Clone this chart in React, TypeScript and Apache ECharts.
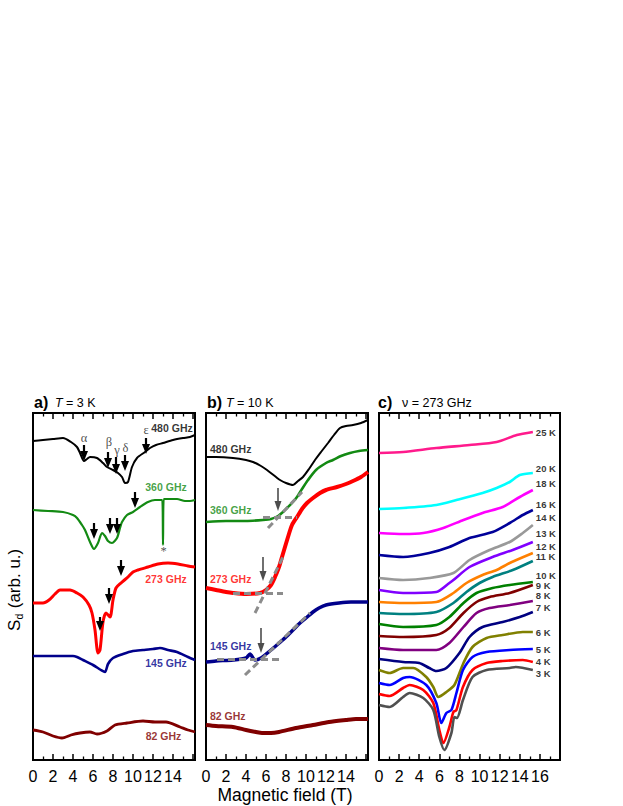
import { useEffect, useRef } from 'react';
import * as echarts from 'echarts';

type Pt = [number, number];

// ---------- panel a) T = 3 K  (field in T, signal in arb. u.) ----------
const a480: Pt[] = [[0,319],[1,320],[2,321],[3,322],[3.8,318],[4.4,313],[4.7,307],[5.1,299],[5.4,301],[5.7,303],[6.4,302],[7.0,297],[7.4,293],[8.0,290],[8.5,287],[8.9,283],[9.2,277],[9.5,278],[9.9,293],[10.4,302],[11.2,308],[11.7,312],[12.3,315],[13.0,317],[14.0,320],[15.0,322],[15.7,323],[16.2,325]];
const a360: Pt[] = [[0,250],[1.5,249],[3,248],[4.0,245],[4.4,242],[4.9,235],[5.2,230],[5.7,218],[6.1,211],[6.5,217],[6.9,227],[7.2,224],[7.5,219],[7.9,217],[8.4,222],[8.7,232],[8.9,238],[9.4,245],[10.0,248],[10.7,253],[11.5,258],[12.2,260],[12.93,260],[13.0,215],[13.07,261],[14.4,261],[15.2,259],[15.7,259],[16.2,260]];
const a273: Pt[] = [[0,157],[1.0,157],[1.6,160],[2.2,166],[2.7,170],[3.7,170],[4.4,167],[5.0,163],[5.6,155],[5.9,147],[6.2,130],[6.5,107],[6.7,110],[7.0,138],[7.3,147],[7.7,143],[8.0,160],[8.3,172],[8.8,177],[9.5,183],[10.0,188],[10.5,190],[11.5,193],[12.5,196],[13.5,197],[14.5,196],[15.5,194],[16.2,193]];
const a145: Pt[] = [[0,104],[2,104],[4.0,104],[4.4,103],[5.0,100],[6.0,95],[6.8,90],[7.2,88],[7.5,96],[8.0,102],[9.0,106],[10.0,109],[11.0,110],[12.0,111],[12.7,112],[13.5,110],[14.4,108],[15.5,103],[16.2,100]];
const a82: Pt[] = [[0,30],[1,28],[2,24],[2.9,22],[3.8,25],[4.7,27],[5.7,28],[6.4,26],[7.4,29],[8.2,35],[9.4,37],[11,39],[12.2,38],[13.3,38],[14.7,33],[15.5,30],[16.2,28]];

// arrows: [field, start, tip]
const arrowsA480: [number, number, number][] = [[5.1,315,300],[7.5,308,293],[8.3,303,287],[9.2,305,290],[11.3,322,307]];
const arrowsA360: [number, number, number][] = [[6.1,237,222],[7.7,242,227],[8.4,242,227],[10.2,268,253]];
const arrowsA273: [number, number, number][] = [[6.7,143,130],[7.6,172,157],[8.8,200,185]];
const greekA: [string, number, number][] = [['α',5.1,322],['β',7.6,318],['γ',8.4,310],['δ',9.25,312],['ε',11.3,330],['*',13.05,209]];
const curveLabelsA: [string, number, number, string][] = [
  ['480 GHz',13.9,332,'#000000'],['360 GHz',13.3,273,'#138a13'],['273 GHz',13.3,181,'#ff0000'],
  ['145 GHz',13.3,97,'#00008b'],['82 GHz',13.05,24,'#800000'],
];

// ---------- panel b) T = 10 K ----------
const b480: Pt[] = [[0,303],[1,303],[2.7,302],[4.0,300],[4.7,298],[5.5,294],[6.1,290],[7.0,283],[7.4,280],[8.0,277],[8.7,275],[9.2,279],[9.7,283],[10.3,291],[10.9,300],[11.5,308],[12.2,317],[12.8,325],[13.4,332],[14.0,334],[14.7,335],[15.5,337],[16.2,340]];
const b360: Pt[] = [[0,238],[2,239],[4,239],[5.7,240],[6.5,241],[7.2,244],[7.7,248],[8.1,252],[8.6,257],[9.1,263],[9.6,271],[10.2,280],[11.0,290],[12.0,297],[12.7,300],[13.5,304],[14.4,307],[15.3,309],[16.2,310]];
const b273: Pt[] = [[0,172],[1,170],[2,168],[2.7,167],[4,166],[5.4,167],[6.0,170],[6.5,175],[6.9,183],[7.3,193],[7.6,203],[8.2,223],[8.6,235],[9.1,243],[9.6,251],[10.1,257],[10.7,262],[11.4,267],[12.0,270],[13.1,273],[14.0,276],[14.7,279],[15.5,283],[16.2,288]];
const b145: Pt[] = [[0,98],[1,99],[2.7,100],[4.0,102],[4.4,106],[4.9,100],[5.5,102],[6.5,110],[7.2,116],[8.0,123],[8.7,130],[9.4,137],[10.0,142],[10.7,148],[11.3,152],[12.0,155],[13.3,157],[14.5,158],[16.2,158]];
const b82: Pt[] = [[0,35],[1,34],[2.7,33],[4.0,30],[5.0,28],[5.6,27],[6.5,27],[7.3,28],[9.0,32],[10.7,35],[12.3,38],[14.0,40],[15.0,41],[16.2,41]];
const arrowsB: [number, number, number][] = [[7.2,272,250],[5.7,203,180],[5.5,132,108]];
const fitLinesB: [Pt, Pt][] = [
  [[5.7,243],[9.1,243]], [[6.2,232],[9.6,268]],
  [[2.7,167],[7.7,167]], [[4.9,147],[7.8,205]],
  [[1.1,101],[7.6,101]], [[3.9,85],[10.4,147]],
];
const curveLabelsB: [string, number, number, string][] = [
  ['480 GHz',0.35,311,'#000000'],['360 GHz',0.35,250,'#138a13'],['273 GHz',0.35,181,'#ff0000'],
  ['145 GHz',0.35,114,'#00008b'],['82 GHz',0.35,44,'#800000'],
];

// ---------- panel c) nu = 273 GHz, temperature series ----------
const c25: Pt[] = [[0,307],[2.4,308],[5.7,312],[9.0,315],[11.7,318],[13.7,325],[15.3,328]];
const c20: Pt[] = [[0,251],[2.4,252],[5.7,255],[7.7,260],[10.3,267],[11.7,272],[13.0,278],[14.0,285],[15.3,287]];
const c18: Pt[] = [[0,227],[2.4,226],[4.4,227],[6.4,232],[8.4,240],[10.3,247],[12.3,253],[14.0,263],[15.3,270]];
const c16: Pt[] = [[0,205],[2.4,203],[5.0,207],[7.0,213],[9.0,222],[11.3,228],[13.0,237],[14.3,245],[15.3,250]];
const c14: Pt[] = [[0,182],[2.4,180],[5.0,182],[7.4,187],[9.0,200],[11.0,210],[13.0,218],[14.3,227],[15.3,235]];
const c13: Pt[] = [[0,170],[2.4,167],[5.7,168],[7.0,177],[7.4,180],[9.0,193],[11.3,203],[13.3,210],[15.3,218]];
const c12: Pt[] = [[0,158],[2.4,157],[5.7,158],[7.4,167],[8.7,177],[10.3,185],[11.7,190],[13.0,197],[15.3,207]];
const c11: Pt[] = [[0,147],[2.4,146],[5.7,148],[7.4,157],[8.7,168],[10.0,177],[11.3,183],[13.3,190],[15.3,199]];
const c10: Pt[] = [[0,136],[2.4,133],[5.7,135],[7.0,143],[8.4,157],[9.7,167],[11.3,172],[13.0,175],[15.3,178]];
const c9: Pt[] = [[0,124],[2.4,123],[5.7,125],[7.0,132],[8.4,147],[9.7,158],[11.0,163],[13.0,167],[15.3,175]];
const c8: Pt[] = [[0,112],[2.4,110],[5.7,110],[7.0,117],[8.4,133],[9.7,147],[11.0,152],[13.0,155],[15.3,159]];
const c7: Pt[] = [[0,101],[2.4,98],[4.0,97],[5.0,92],[5.7,89],[6.7,92],[8.0,107],[9.0,123],[10.3,133],[12.3,138],[14.0,143],[15.3,148]];
const c6: Pt[] = [[0,90],[1.06,87],[2.4,92],[3.4,92],[4.7,83],[5.4,73],[5.9,63],[6.7,68],[7.5,75],[8.4,97],[9.3,113],[10.7,122],[12.3,125],[14.3,128],[15.3,128]];
const c5: Pt[] = [[0,77],[1.06,75],[2.4,82],[3.05,83],[4.7,75],[5.7,57],[6.2,37],[6.7,47],[7.2,50],[7.7,67],[8.35,90],[9.3,103],[10.7,108],[13.0,110],[15.3,111]];
const c4: Pt[] = [[0,66],[1.06,64],[2.4,72],[3.05,75],[4.4,70],[5.4,57],[6.0,30],[6.4,17],[7.0,33],[7.4,48],[7.7,50],[8.35,73],[9.3,90],[10.7,97],[12.3,99],[14.3,100],[15.3,98]];
const c3: Pt[] = [[0,55],[1.06,53],[2.4,63],[3.05,67],[4.4,62],[5.4,50],[6.0,23],[6.5,10],[7.2,27],[7.5,43],[7.75,42],[8.35,60],[9.3,83],[10.7,90],[13.0,92],[13.6,93],[15.3,90]];
const cSeries: [string, Pt[], string][] = [
  ['25 K',c25,'#ff1a8c'],['20 K',c20,'#00ffff'],['18 K',c18,'#ff00ff'],['16 K',c16,'#000099'],
  ['14 K',c14,'#999999'],['13 K',c13,'#8000ff'],['12 K',c12,'#ff8000'],['11 K',c11,'#008080'],
  ['10 K',c10,'#008000'],['9 K',c9,'#800000'],['8 K',c8,'#800080'],['7 K',c7,'#000080'],
  ['6 K',c6,'#808000'],['5 K',c5,'#0000ff'],['4 K',c4,'#ff0000'],['3 K',c3,'#505050'],
];
const curveLabelsC: [string, number, number, string][] = [
  ['25 K',15.55,328,'#000'],['20 K',15.55,292,'#000'],['18 K',15.55,277,'#000'],['16 K',15.55,256,'#000'],
  ['14 K',15.55,243,'#000'],['13 K',15.55,227,'#000'],['12 K',15.55,214,'#000'],['11 K',15.55,204,'#000'],
  ['10 K',15.55,185,'#000'],['9 K',15.55,174.5,'#000'],['8 K',15.55,165,'#000'],['7 K',15.55,153,'#000'],
  ['6 K',15.55,128,'#000'],['5 K',15.55,111,'#000'],['4 K',15.55,99,'#000'],['3 K',15.55,87,'#000'],
];

const tickLabelsAB = [0, 2, 4, 6, 8, 10, 12, 14];
const tickLabelsC = [0, 2, 4, 6, 8, 10, 12, 14, 16];

const FONT = '"Liberation Sans", Arial, Helvetica, sans-serif';
const Y_MAX = 347;

function xAxes(gridIndex: number, max: number, labels: number[]) {
  const base: any = {
    gridIndex, type: 'value', min: 0, max, interval: 2,
    axisLine: { show: false }, splitLine: { show: false },
    axisTick: { show: true, inside: true, length: 6, lineStyle: { color: '#000', width: 1.5 } },
    minorTick: { show: true, splitNumber: 2, length: 3.5, lineStyle: { color: '#000', width: 1.3 } },
    minorSplitLine: { show: false },
  };
  return [
    { ...base, position: 'bottom', axisLabel: { show: true, margin: 8, fontSize: 16, color: '#000', fontFamily: FONT,
      formatter: (v: number) => (labels.indexOf(v) >= 0 ? String(v) : '') } },
    { ...base, position: 'top', axisLabel: { show: false } },
  ];
}

function line(xi: number, yi: number, data: Pt[], color: string, width: number, extra: any = {}) {
  return { type: 'line', xAxisIndex: xi, yAxisIndex: yi, data, symbol: 'none', showSymbol: false, smooth: 0.25,
    silent: true, lineStyle: { color, width }, z: 2, ...extra };
}

function arrowMark(arrs: [number, number, number][], color: string, width: number, head: number[]) {
  return {
    silent: true, symbol: ['none', 'triangle'], symbolSize: head, label: { show: false },
    lineStyle: { color, width, type: 'solid', opacity: 1 }, itemStyle: { color }, emphasis: { disabled: true },
    data: arrs.map(([x, from, tip]) => [{ coord: [x, from] }, { coord: [x, tip + 4] }]),
  };
}

function labels(xi: number, yi: number, items: [string, number, number, string][], pos: string, size: number, extra: any = {}) {
  return {
    type: 'scatter', xAxisIndex: xi, yAxisIndex: yi, symbolSize: 1, itemStyle: { color: 'rgba(0,0,0,0)' }, silent: true, z: 6,
    data: items.map(([text, x, y, color]) => ({
      value: [x, y],
      label: { show: true, formatter: text, color, position: pos, distance: 0, fontSize: size, fontWeight: 'bold', fontFamily: FONT, ...extra },
    })),
  };
}

function buildOption(): any {
  const grids = [
    { left: 33, top: 413, width: 162, height: 347 },
    { left: 206, top: 413, width: 162, height: 347 },
    { left: 379, top: 413, width: 181, height: 347 },
  ].map((g) => ({ ...g, show: true, borderColor: '#000', borderWidth: 2, backgroundColor: 'rgba(0,0,0,0)' }));

  const xAxis = [...xAxes(0, 16.2, tickLabelsAB), ...xAxes(1, 16.2, tickLabelsAB), ...xAxes(2, 18, tickLabelsC)];
  const yAxis = [0, 1, 2].map((g) => ({ gridIndex: g, type: 'value', min: 0, max: Y_MAX, show: false }));

  const series: any[] = [
    line(0, 0, a480, '#000000', 2),
    line(0, 0, a360, '#138a13', 2.2),
    line(0, 0, a273, '#ff0000', 3),
    line(0, 0, a145, '#00008b', 2.6),
    line(0, 0, a82, '#800000', 2.8),
    { type: 'line', xAxisIndex: 0, yAxisIndex: 0, data: [], symbol: 'none', silent: true, z: 5,
      markLine: arrowMark([...arrowsA480, ...arrowsA360, ...arrowsA273], '#000', 2.2, [8, 10]) },
    labels(0, 0, curveLabelsA, 'inside', 10.5),
    labels(0, 0, greekA.map(([t, x, y]) => [t, x, y, '#222'] as [string, number, number, string]), 'inside', 12.5,
      { fontWeight: 'normal', fontFamily: '"Liberation Serif", "DejaVu Serif", serif' }),

    line(2, 1, b480, '#000000', 2),
    line(2, 1, b360, '#138a13', 2.6),
    line(2, 1, b273, '#ff0000', 4),
    line(2, 1, b145, '#00008b', 3.5),
    line(2, 1, b82, '#800000', 4),
    {
      type: 'line', xAxisIndex: 2, yAxisIndex: 1, data: [], symbol: 'none', silent: true, z: 4,
      markLine: {
        silent: true, symbol: ['none', 'none'], label: { show: false }, emphasis: { disabled: true },
        lineStyle: { color: '#8c8c8c', width: 3, type: [7, 4] },
        data: fitLinesB.map(([p, q]) => [{ coord: p }, { coord: q }]),
      },
    },
    { type: 'line', xAxisIndex: 2, yAxisIndex: 1, data: [], symbol: 'none', silent: true, z: 5,
      markLine: arrowMark(arrowsB, '#4d4d4d', 1.6, [7, 10]) },
    labels(2, 1, curveLabelsB, 'right', 10.5),

    ...cSeries.map(([, d, c]) => line(4, 2, d, c, 2.6)),
    labels(4, 2, curveLabelsC, 'right', 9.5),
  ];

  const titleRich = {
    i: { fontStyle: 'italic', fontSize: 12.5, fontFamily: FONT, fill: '#000' },
  };
  const boldTitle = (x: number, t: string) => ({
    type: 'text', x, y: 402, silent: true,
    style: { text: t, fontSize: 16, fontWeight: 'bold', fontFamily: FONT, fill: '#000', verticalAlign: 'middle' },
  });
  const subTitle = (x: number, t: string) => ({
    type: 'text', x, y: 402.5, silent: true,
    style: { text: t, rich: titleRich, fontSize: 12.5, fontFamily: FONT, fill: '#000', verticalAlign: 'middle' },
  });

  const graphic = [
    boldTitle(34, 'a)'), subTitle(55, '{i|T} = 3 K'),
    boldTitle(207, 'b)'), subTitle(226, '{i|T} = 10 K'),
    boldTitle(378, 'c)'), subTitle(402, 'ν = 273 GHz'),
    {
      type: 'text', x: 285, y: 795, silent: true,
      style: { text: 'Magnetic field (T)', fontSize: 17.5, fontFamily: FONT, fill: '#000', align: 'center', verticalAlign: 'middle' },
    },
    {
      type: 'group', x: 14, y: 588, rotation: Math.PI / 2, silent: true,
      children: [
        { type: 'text', x: -43, y: 0, style: { text: 'S', fontSize: 17, fontFamily: FONT, fill: '#000', verticalAlign: 'middle' } },
        { type: 'text', x: -31.5, y: 5, style: { text: 'd', fontSize: 10.5, fontFamily: FONT, fill: '#000', verticalAlign: 'middle' } },
        { type: 'text', x: -25, y: 0, style: { text: ' (arb. u.)', fontSize: 17, fontFamily: FONT, fill: '#000', verticalAlign: 'middle' } },
      ],
    },
  ];

  return {
    animation: false,
    backgroundColor: '#ffffff',
    textStyle: { fontFamily: FONT },
    grid: grids,
    xAxis,
    yAxis,
    series,
    graphic,
  };
}

export default function App() {
  const ref = useRef<HTMLDivElement>(null);
  useEffect(() => {
    const chart = echarts.init(ref.current as HTMLDivElement, null, { renderer: 'svg' });
    chart.setOption(buildOption());
    return () => chart.dispose();
  }, []);
  return <div ref={ref} style={{ position: 'absolute', left: 0, top: 0, width: 623, height: 806 }} />;
}
